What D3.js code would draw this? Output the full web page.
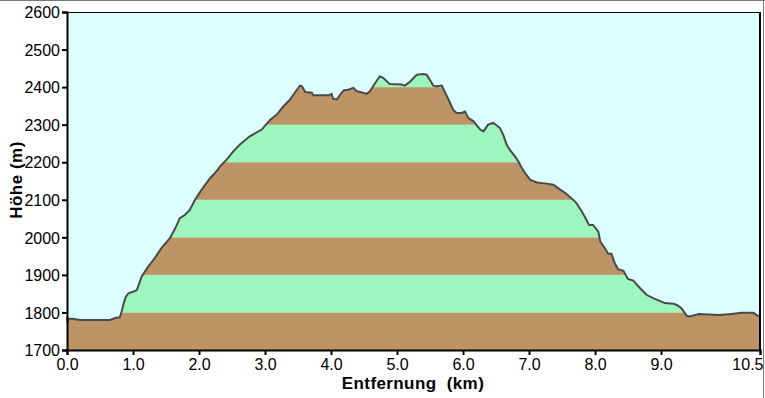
<!DOCTYPE html>
<html>
<head>
<meta charset="utf-8">
<script src="https://cdn.jsdelivr.net/npm/d3@7"></script>
<style>
  body { margin: 0; background: #fff; }
  svg text { font-family: "Liberation Sans", Arial, sans-serif; fill: #000; }
</style>
</head>
<body>
<script>
//profile data: distance (km) and elevation (m)
var distKm = [0.00, 0.01, 0.02, 0.08, 0.20, 0.65, 0.73, 0.80, 0.83, 0.86, 0.89, 0.93, 1.00, 1.06, 1.13, 1.23, 1.33, 1.43, 1.56, 1.64,
  1.71, 1.79, 1.86, 1.94, 2.04, 2.17, 2.24, 2.34, 2.42, 2.52, 2.62, 2.77, 2.95, 3.08, 3.18, 3.28, 3.38, 3.45, 3.53, 3.56,
  3.61, 3.71, 3.73, 3.96, 4.01, 4.03, 4.09, 4.14, 4.19, 4.26, 4.34, 4.39, 4.47, 4.54, 4.59, 4.67, 4.74, 4.79, 4.89, 5.07,
  5.12, 5.20, 5.30, 5.40, 5.45, 5.55, 5.60, 5.68, 5.73, 5.78, 5.85, 5.90, 5.98, 6.03, 6.08, 6.16, 6.26, 6.31, 6.38, 6.46,
  6.56, 6.61, 6.66, 6.71, 6.79, 6.84, 6.89, 6.94, 7.02, 7.12, 7.27, 7.37, 7.44, 7.55, 7.65, 7.72, 7.80, 7.87, 7.91, 7.97,
  8.05, 8.08, 8.15, 8.20, 8.25, 8.30, 8.35, 8.43, 8.50, 8.58, 8.68, 8.78, 8.88, 8.98, 9.06, 9.19, 9.24, 9.31, 9.39, 9.44,
  9.52, 9.57, 9.89, 10.07, 10.22, 10.40, 10.45, 10.48, 10.50];
var elevM = [1789, 1772, 1783, 1783, 1780, 1780, 1785, 1787, 1804, 1825, 1841, 1851, 1855, 1860, 1895, 1922, 1945, 1971, 1998, 2024,
  2051, 2060, 2073, 2100, 2127, 2158, 2171, 2193, 2207, 2229, 2247, 2269, 2287, 2313, 2327, 2349, 2367, 2385, 2404, 2402,
  2387, 2385, 2378, 2378, 2382, 2369, 2367, 2380, 2391, 2393, 2398, 2389, 2386, 2382, 2389, 2411, 2429, 2425, 2408, 2407,
  2404, 2415, 2433, 2435, 2433, 2404, 2402, 2404, 2385, 2367, 2340, 2331, 2331, 2335, 2318, 2309, 2287, 2282, 2300, 2305,
  2291, 2273, 2247, 2233, 2215, 2202, 2185, 2171, 2153, 2146, 2143, 2140, 2131, 2118, 2103, 2091, 2069, 2047, 2033, 2033,
  2015, 1989, 1971, 1956, 1956, 1931, 1915, 1911, 1889, 1885, 1865, 1847, 1838, 1831, 1825, 1823, 1820, 1811, 1791, 1789,
  1793, 1796, 1793, 1796, 1799, 1799, 1793, 1791, 1790];

var yTicks = [1700, 1800, 1900, 2000, 2100, 2200, 2300, 2400, 2500, 2600];
var xTicks = [0, 1, 2, 3, 4, 5, 6, 7, 8, 9, 10.5];
var xTickLabels = ["0.0", "1.0", "2.0", "3.0", "4.0", "5.0", "6.0", "7.0", "8.0", "9.0", "10.5"];
var bandColors = ["#bc9466", "#9cf6be"]; //brown, green alternating per 100 m

(function drawChart(){
  var width = 765, height = 398;
  var plotLeft = 67, plotRight = 760, plotTop = 12, plotBottom = 350;

  var svg = d3.select("body").append("svg")
    .attr("width", width)
    .attr("height", height);

  //window frame lines
  svg.append("line").attr("x1", 0).attr("x2", width).attr("y1", 0.5).attr("y2", 0.5)
    .attr("stroke", "#7a7a7a").attr("stroke-width", 1);
  svg.append("line").attr("x1", 763.5).attr("x2", 763.5).attr("y1", 0).attr("y2", height)
    .attr("stroke", "#7a7a7a").attr("stroke-width", 1);

  var x = d3.scaleLinear().domain([0, 10.5]).range([plotLeft, plotRight]);
  var y = d3.scaleLinear().domain([1700, 2600]).range([plotBottom, plotTop]);

  var pts = distKm.map(function(d, i){ return [d, elevM[i]]; });

  //sky background
  svg.append("rect")
    .attr("x", plotLeft).attr("y", plotTop)
    .attr("width", plotRight - plotLeft).attr("height", plotBottom - plotTop)
    .attr("fill", "#dcfefe");

  var area = d3.area()
    .x(function(d){ return x(d[0]); })
    .y0(plotBottom)
    .y1(function(d){ return y(d[1]); });

  svg.append("clipPath").attr("id", "terrain")
    .append("path").datum(pts).attr("d", area);

  //stripes every 100 m, clipped by the terrain
  var bands = d3.range(1700, 2600, 100);
  svg.append("g").attr("clip-path", "url(#terrain)")
    .selectAll("rect")
    .data(bands)
    .enter()
    .append("rect")
    .attr("x", plotLeft)
    .attr("width", plotRight - plotLeft)
    .attr("y", function(d){ return y(d + 100); })
    .attr("height", function(d){ return y(d) - y(d + 100); })
    .attr("fill", function(d, i){ return bandColors[i % 2]; });

  //profile line
  var line = d3.line()
    .x(function(d){ return x(d[0]); })
    .y(function(d){ return y(d[1]); });
  svg.append("path").datum(pts)
    .attr("d", line)
    .attr("fill", "none")
    .attr("stroke", "#4a4a4a")
    .attr("stroke-width", 2);

  //plot frame
  svg.append("line").attr("x1", plotLeft).attr("x2", plotRight).attr("y1", plotTop + 0.5).attr("y2", plotTop + 0.5)
    .attr("stroke", "#000").attr("stroke-width", 1);
  svg.append("line").attr("x1", plotRight).attr("x2", plotRight).attr("y1", plotTop).attr("y2", plotBottom)
    .attr("stroke", "#000").attr("stroke-width", 2);

  //y axis
  var yAxis = svg.append("g").attr("transform", "translate(" + plotLeft + ",0)")
    .call(d3.axisLeft(y).tickValues(yTicks).tickSize(5).tickPadding(2).tickFormat(d3.format("d")));
  yAxis.select(".domain").attr("stroke-width", 2);
  yAxis.selectAll(".tick line").attr("stroke-width", 2);
  yAxis.selectAll("text").attr("font-size", 16).attr("dy", "0.36em")
    .style("font-family", "'Liberation Sans', Arial, sans-serif");

  //x axis
  var xAxis = svg.append("g").attr("transform", "translate(0," + plotBottom + ")")
    .call(d3.axisBottom(x).tickValues(xTicks).tickSize(5).tickPadding(4)
      .tickFormat(function(d, i){ return xTickLabels[i]; }));
  xAxis.select(".domain").attr("stroke-width", 2);
  xAxis.selectAll(".tick line").attr("stroke-width", 2);
  xAxis.selectAll("text").attr("font-size", 16)
    .style("font-family", "'Liberation Sans', Arial, sans-serif")
    .attr("text-anchor", function(d){ return d === 10.5 ? "end" : "middle"; })
    .attr("dx", function(d){ return d === 10.5 ? 3 : 0; });

  //axis titles
  svg.append("text")
    .attr("x", 413).attr("y", 389)
    .attr("text-anchor", "middle")
    .attr("font-size", 17)
    .attr("font-weight", "bold")
    .attr("letter-spacing", 0.4)
    .attr("xml:space", "preserve")
    .text("Entfernung  (km)");

  svg.append("text")
    .attr("transform", "translate(22,180) rotate(-90)")
    .attr("text-anchor", "middle")
    .attr("font-size", 17)
    .attr("font-weight", "bold")
    .attr("letter-spacing", 0.5)
    .text("Höhe (m)");
})();
</script>
</body>
</html>
